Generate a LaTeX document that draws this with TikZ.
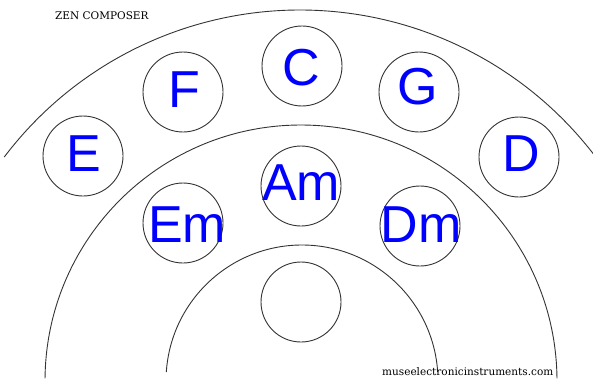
\documentclass[tikz,border=0pt]{standalone}
\usepackage{fontspec}
\newfontfamily\chordfont{Liberation Sans}
\newfontfamily\smallfont{DejaVu Serif}
\begin{document}
\begin{tikzpicture}[x=1pt,y=1pt,
  ring/.style={draw=black!80, line width=0.9pt},
  chordcircle/.style={circle, draw=black!80, line width=0.9pt, minimum size=80pt, inner sep=0pt},
  chordtext/.style={anchor=base, inner sep=0pt, text=blue, font=\chordfont\fontsize{52}{52}\selectfont},
  smalltext/.style={anchor=base west, inner sep=0pt, text=black, font=\smallfont\fontsize{10.5}{10.5}\selectfont}]
\useasboundingbox[fill=white] (0,0) rectangle (593,381);
% arcs
\draw[ring] (300,0) ++(142.86:371) arc[start angle=142.86, end angle=37.5, radius=371];
\draw[ring] (301,0) ++(179.4:256) arc[start angle=179.4, end angle=0.6, radius=256];
\draw[ring] (302,0) ++(176.2:136) arc[start angle=176.2, end angle=3.8, radius=136];
% circles
\node[chordcircle] (cE)  at (83,225) {};
\node[chordcircle] (cF)  at (183,289) {};
\node[chordcircle] (cC)  at (302,315) {};
\node[chordcircle] (cG)  at (419,289) {};
\node[chordcircle] (cD)  at (519,224) {};
\node[chordcircle] (cEm) at (183,158) {};
\node[chordcircle] (cAm) at (301,195) {};
\node[chordcircle] (cDm) at (420,155) {};
\node[chordcircle] (cX)  at (301,79) {};
% chord names
\node[chordtext] (tE)  at (84,210) {E};
\node[chordtext] (tF)  at (184,274) {F};
\node[chordtext] (tC)  at (301,295) {C};
\node[chordtext] (tG)  at (418,277) {G};
\node[chordtext] (tD)  at (521,209.5) {D};
\node[chordtext] (tEm) at (187,139) {Em};
\node[chordtext] (tAm) at (301,181) {Am};
\node[chordtext] (tDm) at (421,139) {Dm};
% small labels
\node[smalltext] (title) at (55,361) {ZEN COMPOSER};
\node[smalltext] (url) at (382,6) {museelectronicinstruments.com};
\end{tikzpicture}
\end{document}
